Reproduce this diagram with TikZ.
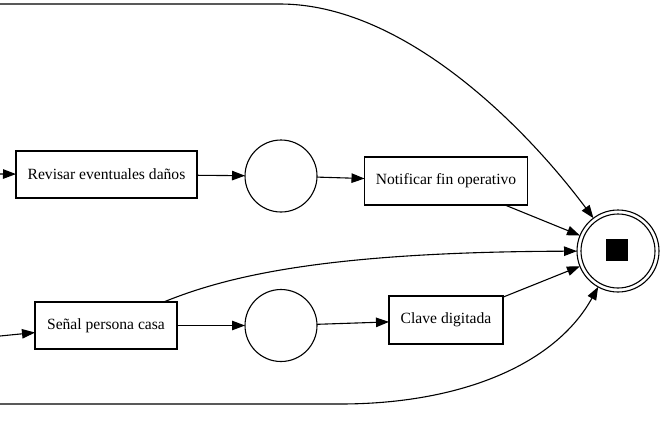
\documentclass[tikz,border=0pt]{standalone}
\usepackage{fontspec}
\setmainfont{Liberation Serif}
\usetikzlibrary{arrows.meta}
\begin{document}
\begin{tikzpicture}[x=1pt,y=-1pt,
  every node/.style={inner sep=0pt,outer sep=0pt},
  taskbox/.style={draw,line width=1.1pt,font=\fontsize{15.6pt}{18pt}\selectfont,minimum height=47pt},
  evt/.style={draw,circle,line width=1.1pt,minimum size=72pt},
  flow/.style={draw,line width=1.1pt,-{Triangle[length=13pt,width=9.5pt]}}]
\useasboundingbox (0,0) rectangle (663,437);
% nodes
\node[taskbox,minimum width=181pt] (rev) at (106.5,174.5) {Revisar eventuales daños};
\node[evt] (c1) at (281,176) {};
\node[taskbox,minimum width=163pt,minimum height=48pt] (notif) at (446,181) {Notificar fin operativo};
\node[taskbox,minimum width=142pt] (senal) at (106,325.5) {Señal persona casa};
\node[evt] (c2) at (281,325.5) {};
\node[taskbox,minimum width=114pt,minimum height=48pt] (clave) at (446,320) {Clave digitada};
\node[draw,circle,line width=1.1pt,minimum size=82pt] (end) at (618,251) {};
\node[draw,circle,line width=1.1pt,minimum size=74pt] (endin) at (618,251) {};
\node[fill=black,minimum size=22pt] (stop) at (617,250) {};
% free ends
\coordinate (lt) at (0,4);
\coordinate (lb) at (0,404);
\coordinate (lr) at (0,174);
\coordinate (ls) at (0,336);
% edges
\path[flow] (lr) -- (rev);
\path[flow] (rev) -- (c1);
\path[flow] (c1) -- (notif);
\path[flow] (notif) -- (end);
\path[flow] (ls) -- (senal);
\path[flow] (senal) -- (c2);
\path[flow] (c2) -- (clave);
\path[flow] (clave) -- (end);
\path[flow] (senal) .. controls (230,275) and (330,252) .. (end);
\path[flow] (lt) -- (280,4) .. controls (400,4) and (520,120) .. (end);
\path[flow] (lb) -- (340,404) .. controls (460,404) and (555,365) .. (end);
\end{tikzpicture}
\end{document}
